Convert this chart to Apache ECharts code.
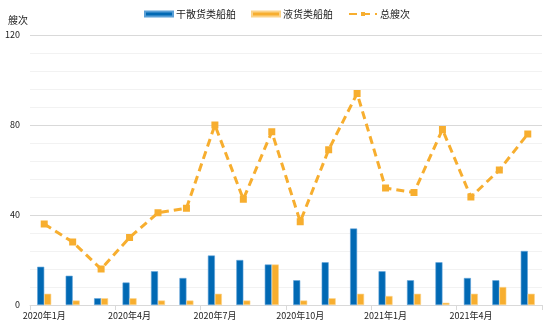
<!DOCTYPE html>
<html>
<head>
<meta charset="utf-8">
<script src="https://cdn.jsdelivr.net/npm/echarts@6/dist/echarts.min.js"></script>
<style>html,body{margin:0;padding:0;background:#fff}#c{width:554px;height:332px}</style>
</head>
<body>
<div id="c"></div>
<script>
// Monthly vessel counts, Jan 2020 – Jun 2021
const months = ['2020年1月','2020年2月','2020年3月','2020年4月','2020年5月','2020年6月',
  '2020年7月','2020年8月','2020年9月','2020年10月','2020年11月','2020年12月',
  '2021年1月','2021年2月','2021年3月','2021年4月','2021年5月','2021年6月'];
const dryBulk = [17, 13, 3, 10, 15, 12, 22, 20, 18, 11, 19, 34, 15, 11, 19, 12, 11, 24];
const liquid  = [5, 2, 3, 3, 2, 2, 5, 2, 18, 2, 3, 5, 4, 5, 1, 5, 8, 5];
const total   = [36, 28, 16, 30, 41, 43, 80, 47, 77, 37, 69, 94, 52, 50, 78, 48, 60, 76];
const yTicks = { min: 0, max: 120, interval: 40 };

const FONT = '"Noto Sans CJK SC", sans-serif';
const BLUE = '#0169B4';
const ORANGE = '#F7AE2F';

const chart = echarts.init(document.getElementById('c'));
chart.setOption({
  animation: false,
  textStyle: { fontFamily: FONT },
  legend: {
    top: 4,
    left: 139,
    itemWidth: 28,
    itemHeight: 5,
    itemGap: 15,
    textStyle: { fontSize: 10, color: '#222', fontFamily: FONT, padding: [0, 0, 0, -2] },
    data: [
      { name: '干散货类船舶', icon: 'rect' },
      { name: '液货类船舶', icon: 'rect' },
      { name: '总艘次' }
    ]
  },
  grid: { left: 30, right: 12, top: 35, bottom: 27, containLabel: false },
  xAxis: {
    type: 'category',
    data: months,
    axisLine: { lineStyle: { color: '#d9d9d9' } },
    axisTick: { show: true, interval: 2, lineStyle: { color: '#d9d9d9' } },
    axisLabel: { interval: 2, fontSize: 9, color: '#222', margin: 6, fontFamily: FONT }
  },
  yAxis: {
    type: 'value',
    min: yTicks.min,
    max: yTicks.max,
    interval: yTicks.interval,
    name: '艘次',
    nameGap: 10,
    nameTextStyle: { fontSize: 10, color: '#222', align: 'right', padding: [0, 2, 0, 0] },
    axisLine: { show: false },
    axisTick: { show: false },
    axisLabel: { fontSize: 9, color: '#222', margin: 10 },
    splitLine: { lineStyle: { color: '#d9d9d9' } },
    minorTick: { show: false, splitNumber: 5 },
    minorSplitLine: { show: true, lineStyle: { color: '#f2f2f2' } }
  },
  series: [
    {
      name: '干散货类船舶',
      type: 'bar',
      data: dryBulk,
      barWidth: 7,
      barGap: '0%',
      itemStyle: { color: BLUE, borderColor: '#5a9fd6', borderWidth: 0.6 }
    },
    {
      name: '液货类船舶',
      type: 'bar',
      data: liquid,
      barWidth: 7,
      barGap: '0%',
      itemStyle: { color: ORANGE, borderColor: '#fbd38a', borderWidth: 0.6 }
    },
    {
      name: '总艘次',
      type: 'line',
      data: total,
      symbol: 'rect',
      symbolSize: 7,
      lineStyle: { color: ORANGE, width: 3, type: [8, 5] },
      itemStyle: { color: ORANGE }
    }
  ]
});
</script>
</body>
</html>
